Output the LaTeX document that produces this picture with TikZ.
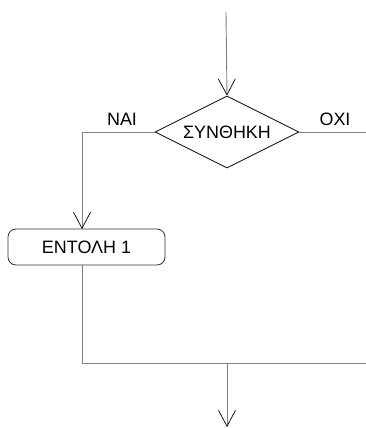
\documentclass[tikz,border=0pt]{standalone}
\usepackage{fontspec}
\setmainfont{Liberation Sans}
\usetikzlibrary{shapes.geometric,arrows.meta}
\begin{document}
\begin{tikzpicture}[x=1bp,y=-1bp,
  conn/.style={draw=black!50,line width=0.9bp},
  arr/.style={conn,-{Straight Barb[length=16bp,width=17bp,color=black,line width=0.7bp]}},
  txt/.style={font=\fontsize{18}{20}\selectfont},
  decision/.style={diamond,draw=black,line width=0.8bp,minimum width=144bp,minimum height=72bp,inner sep=0pt,aspect=2,txt},
  stmtbox/.style={rectangle,rounded corners=8bp,draw=black!80,line width=0.8bp,minimum width=157bp,minimum height=36bp,inner sep=0pt,txt},
  lbl/.style={txt,inner sep=0pt}]
\useasboundingbox (0,0) rectangle (366,428);
\coordinate (top) at (226,12);
\node[decision] (cond) at (227,132) {ΣΥΝΘΗΚΗ};
\node[stmtbox] (stmt) at (86.5,247) {ΕΝΤΟΛΗ 1};
\coordinate (rightend) at (366,132);
\coordinate (leftcorner) at (82,132);
\coordinate (stmtin) at (82,229);
\coordinate (stmtout) at (82,265);
\coordinate (joinleft) at (82,363);
\coordinate (joinright) at (366,363);
\coordinate (merge) at (227,363);
\coordinate (bottom) at (227,427);
\node[lbl] (yes) at (122,119) {ΝΑΙ};
\node[lbl] (no) at (335,119) {ΟΧΙ};
\draw[arr] (top) -- (cond.north);
\draw[conn] (cond.east) -- (rightend);
\draw[arr] (cond.west) -- (leftcorner) -- (stmtin);
\draw[conn] (stmtout) -- (joinleft) -- (joinright);
\draw[arr] (merge) -- (bottom);
\end{tikzpicture}
\end{document}
